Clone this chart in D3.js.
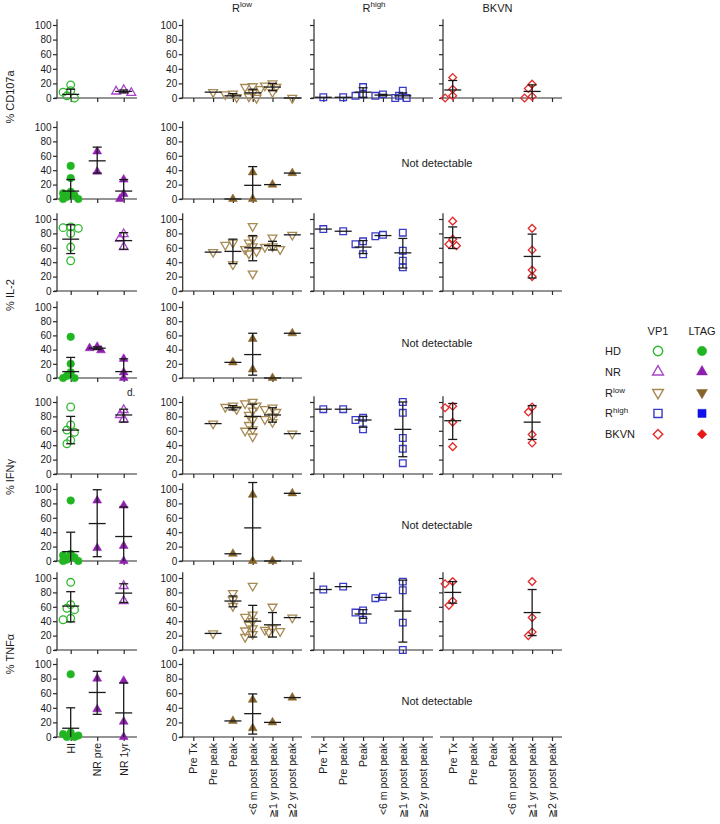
<!DOCTYPE html>
<html><head><meta charset="utf-8">
<script src="https://cdn.jsdelivr.net/npm/d3@7"></script>
<style>
body{margin:0;background:#fff}
svg text{font-family:Arial,"Liberation Sans",sans-serif;fill:#1a1a1a}
</style></head>
<body><svg id="c" width="720" height="824"></svg>
<script>
// ---------- categories / labels ----------
const catsHD = ["HI","NR pre","NR 1yr"];
const catsT = ["Pre Tx","Pre peak","Peak","<6 m post peak","\u22671 yr post peak","\u22672 yr post peak"];
const measures = ["% CD107a","% IL-2","% IFN\u03b3","% TNF\u03b1"];
const yTicks = [0,20,40,60,80,100];
const legendGroups = ["HD","NR","R|low","R|high","BKVN"];
const legendCols = ["VP1","LTAG"];

// ---------- data: [category index, points, mean, sdLow, sdHigh] ----------
// CD107a
const cd107aVP1_HD   = [[0,[18,10,8,3,0],5,0,12]];
const cd107aVP1_NR   = [[2,[7,9,11],9,7,11]];
const cd107aVP1_Rlow = [[1,[8],8],[2,[6,5,1],3,0,6],[3,[16,15,12,7,2,0],7,0,12],[4,[20,17,15,8],15,10,20],[5,[0],0]];
const cd107aVP1_Rhigh= [[0,[1],1],[1,[1],1],[2,[15,5,3],8,1,14],[3,[3,5],4,3,5],[4,[10,3,0,0],3,0,7]];
const cd107aVP1_BKVN = [[0,[28,12,3,0],11,0,24],[4,[19,13,2,0],9,0,18]];
const cd107aLT_HD    = [[0,[46,29,10,8,5,3,0,0],11,0,27]];
const cd107aLT_NR    = [[1,[66,38],53,36,72],[2,[27,7,0],11,0,27]];
const cd107aLT_Rlow  = [[2,[0],0],[3,[37,0],19,0,45],[4,[20],20],[5,[36],36]];
// IL-2
const il2VP1_HD   = [[0,[89,88,87,80,61,42],72,52,92]];
const il2VP1_NR   = [[2,[79,73,61],70,58,81]];
const il2VP1_Rlow = [[1,[54],54],[2,[67,64,37],55,38,72],[3,[90,72,67,62,58,55,52,24],60,42,77],[4,[74,62,61,58],63,57,69],[5,[78],78]];
const il2VP1_Rhigh= [[0,[86],86],[1,[83],83],[2,[69,65,51],61,52,70],[3,[76,78],77],[4,[81,56,42,33],53,32,73]];
const il2VP1_BKVN = [[0,[97,72,65,63],74,59,89],[4,[87,57,29,20],48,18,79]];
const il2LT_HD    = [[0,[58,20,8,3,0,0],9,0,29]];
const il2LT_NR    = [[1,[39,42,44],42,40,44],[2,[27,8,0],9,0,27]];
const il2LT_Rlow  = [[2,[22],22],[3,[55,12],33,4,63],[4,[0],0],[5,[63],63]];
// IFNg
const ifngVP1_HD   = [[0,[93,68,61,58,47,42],61,42,80]];
const ifngVP1_NR   = [[2,[89,82,76],82,72,90]];
const ifngVP1_Rlow = [[1,[70],70],[2,[95,93,90],92,89,95],[3,[100,98,95,88,82,75,68,62,60,52],80,63,97],[4,[92,90,86,80,76,72],82,72,92],[5,[56],56]];
const ifngVP1_Rhigh= [[0,[90],90],[1,[90],90],[2,[78,75,62],75,65,80],[4,[100,85,50,35,15],62,24,100]];
const ifngVP1_BKVN = [[0,[94,92,72,38],74,48,98],[4,[93,86,55,43],72,48,95]];
const ifngLT_HD    = [[0,[84,10,8,5,2,0,0],13,0,40]];
const ifngLT_NR    = [[1,[84,18],52,6,99],[2,[77,21,0],34,0,75]];
const ifngLT_Rlow  = [[2,[10],10],[3,[92,0],46,0,109],[4,[0],0],[5,[94],94]];
// TNFa
const tnfaVP1_HD   = [[0,[94,63,58,56,44,42],61,39,81]];
const tnfaVP1_NR   = [[2,[89,68],79,66,92]];
const tnfaVP1_Rlow = [[1,[23],23],[2,[79,70,61],68,60,75],[3,[89,49,46,40,35,30,27,22,18],40,18,62],[4,[60,30,28,26,25],35,18,52],[5,[45],45]];
const tnfaVP1_Rhigh= [[0,[84],84],[1,[88],88],[2,[55,52,42],50,44,56],[3,[72,74],73],[4,[95,83,38,0],54,11,97]];
const tnfaVP1_BKVN = [[0,[95,92,68,62],80,65,95],[4,[95,45,25,20],52,20,84]];
const tnfaLT_HD    = [[0,[86,6,4,2,0,0],12,0,40]];
const tnfaLT_NR    = [[1,[80,38],61,31,90],[2,[77,21,0],33,0,74]];
const tnfaLT_Rlow  = [[2,[22],22],[3,[51,12],32,4,59],[4,[20],20],[5,[54],54]];

// ---------- layout ----------
const rowsL = [{y0:98,y100:25},{y0:199,y100:127},{y0:291,y100:219},{y0:378,y100:307},
               {y0:474,y100:402},{y0:561,y100:489},{y0:650,y100:578},{y0:737,y100:664}];
const colsL = [{ax:57,end:137,r:[70.7,123.7],cats:catsHD,lab:true},
               {ax:182.7,end:302,r:[193.3,292.3],cats:catsT,lab:true},
               {ax:314,end:433,r:[323.3,422.7],cats:catsT,lab:false},
               {ax:443,end:562,r:[452.7,552],cats:catsT,lab:false}];
const ST = {
  hd:   {sym:d3.symbolCircle,  open:"#2EB82E", fill:"#22B522", size:46, rotO:0, rotF:0},
  nr:   {sym:d3.symbolTriangle,open:"#A845C8", fill:"#8E1FB0", size:34, rotO:0, rotF:0},
  rlow: {sym:d3.symbolTriangle,open:"#A88A55", fill:"#86632A", size:34, rotO:180, rotF:0},
  rhigh:{sym:d3.symbolSquare,  open:"#3A3AC8", fill:"#1010E8", size:44, rotO:0, rotF:0},
  bkvn: {sym:d3.symbolSquare,  open:"#E52A2A", fill:"#E81818", size:30, rotO:45, rotF:45}
};
const AX = "#2a2a2a";
const svg = d3.select("#c");

const panels = [
  [cd107aVP1_HD,"hd",0,0,0],[cd107aVP1_NR,"nr",0,0,0],[cd107aVP1_Rlow,"rlow",0,1,0],[cd107aVP1_Rhigh,"rhigh",0,2,0],[cd107aVP1_BKVN,"bkvn",0,3,0],
  [cd107aLT_HD,"hd",1,0,1],[cd107aLT_NR,"nr",1,0,1],[cd107aLT_Rlow,"rlow",1,1,1],
  [il2VP1_HD,"hd",2,0,0],[il2VP1_NR,"nr",2,0,0],[il2VP1_Rlow,"rlow",2,1,0],[il2VP1_Rhigh,"rhigh",2,2,0],[il2VP1_BKVN,"bkvn",2,3,0],
  [il2LT_HD,"hd",3,0,1],[il2LT_NR,"nr",3,0,1],[il2LT_Rlow,"rlow",3,1,1],
  [ifngVP1_HD,"hd",4,0,0],[ifngVP1_NR,"nr",4,0,0],[ifngVP1_Rlow,"rlow",4,1,0],[ifngVP1_Rhigh,"rhigh",4,2,0],[ifngVP1_BKVN,"bkvn",4,3,0],
  [ifngLT_HD,"hd",5,0,1],[ifngLT_NR,"nr",5,0,1],[ifngLT_Rlow,"rlow",5,1,1],
  [tnfaVP1_HD,"hd",6,0,0],[tnfaVP1_NR,"nr",6,0,0],[tnfaVP1_Rlow,"rlow",6,1,0],[tnfaVP1_Rhigh,"rhigh",6,2,0],[tnfaVP1_BKVN,"bkvn",6,3,0],
  [tnfaLT_HD,"hd",7,0,1],[tnfaLT_NR,"nr",7,0,1],[tnfaLT_Rlow,"rlow",7,1,1]
];

function yS(r){ const R=rowsL[r]; return d3.scaleLinear().domain([0,100]).range([R.y0,R.y100]); }
function xS(c){ const C=colsL[c]; return d3.scalePoint().domain(C.cats).range(C.r); }

function styleAxis(g){
  g.selectAll("path,line").attr("stroke",AX).attr("stroke-width",1.2);
  g.selectAll("text").attr("font-size",10).attr("font-family","Arial, 'Liberation Sans', sans-serif").attr("fill","#1a1a1a");
}
function drawYAxis(r,c){
  const C=colsL[c], y=yS(r);
  const g=svg.append("g").attr("transform",`translate(${C.ax},0)`)
    .call(d3.axisLeft(y).tickValues(yTicks).tickSize(4).tickSizeOuter(0).tickPadding(1.5)
      .tickFormat(C.lab? d3.format("d"):()=>""));
  g.select(".domain").attr("d",`M0,${y(0)}V${y(108)}`);
  styleAxis(g);
}
function drawXAxis(r,c,labels){
  const C=colsL[c], x=xS(c), y=yS(r);
  const g=svg.append("g").attr("transform",`translate(0,${y(0)})`)
    .call(d3.axisBottom(x).tickSize(4).tickSizeOuter(0).tickFormat(labels? d=>d : ()=>""));
  g.select(".domain").attr("d",`M${C.ax-3},0H${C.end}`);
  if(labels){
    g.selectAll(".tick text").attr("transform","rotate(-90)").attr("text-anchor","end")
      .attr("x",-6).attr("y",0).attr("dy","0.35em");
  }
  styleAxis(g);
  if(labels) g.selectAll("text").attr("font-size",10.5);
}

// axes
for(let r=0;r<8;r++){
  const lt = r%2===1;
  drawYAxis(r,0); drawXAxis(r,0,r===7);
  drawYAxis(r,1); drawXAxis(r,1,r===7);
  if(!lt){ drawYAxis(r,2); drawXAxis(r,2,false); drawYAxis(r,3); drawXAxis(r,3,false); }
  else {
    const y=yS(r);
    svg.append("text").attr("x",437).attr("y",(y(0)+y(100))/2+4).attr("text-anchor","middle")
      .attr("font-size",11).text("Not detectable");
    if(r===7){ drawXAxis(r,2,true); drawXAxis(r,3,true); }
  }
}

// compact swarm layout (points may overlap, as in the reference)
function swarm(vals,y,cx){
  const placed=[];
  const items=vals.map(v=>({v,py:y(v)})).sort((a,b)=>a.py-b.py);
  const step=3.8, minD=5.2, offs=[0,-1,1,-2,2];
  items.forEach(p=>{
    let best=null, bestD=-1;
    for(const o of offs){
      const px=cx+o*step;
      const d=placed.length? d3.min(placed,q=>Math.hypot(q.x-px,q.y-p.py)) : 99;
      if(d>=minD){best=px;break;}
      if(d>bestD){bestD=d;best=px;}
    }
    placed.push({x:best,y:p.py});
  });
  return placed;
}

// points and error bars
panels.forEach(([data,grp,r,c,lt])=>{
  const x=xS(c), y=yS(r), st=ST[grp];
  const cats=colsL[c].cats;
  const g=svg.append("g");
  const sym=d3.symbol().type(st.sym).size(st.size);
  data.forEach(d=>{
    const cx=x(cats[d[0]]);
    const pts=swarm(d[1],y,cx);
    g.selectAll(null).data(pts).join("path")
      .attr("d",sym)
      .attr("transform",p=>`translate(${p.x},${p.y}) rotate(${lt?st.rotF:st.rotO})`)
      .attr("fill",lt?st.fill:"none").attr("stroke",lt?st.fill:st.open).attr("stroke-width",lt?0.5:1.3);
  });
  data.forEach(d=>{
    const cx=x(cats[d[0]]);
    const eb=svg.append("g").attr("stroke","#1a1a1a").attr("stroke-width",1.3).attr("fill","none");
    eb.append("line").attr("x1",cx-8.5).attr("x2",cx+8.5).attr("y1",y(d[2])).attr("y2",y(d[2]));
    if(d.length>3){
      eb.append("line").attr("x1",cx).attr("x2",cx).attr("y1",y(d[3])).attr("y2",y(d[4]));
      [d[3],d[4]].forEach(v=>{ if(v>0) eb.append("line").attr("x1",cx-4.5).attr("x2",cx+4.5).attr("y1",y(v)).attr("y2",y(v)); });
    }
  });
});

// headers
function supText(sel,base,sup,x,y,fs){
  const t=sel.append("text").attr("x",x).attr("y",y).attr("font-size",fs).attr("text-anchor","middle");
  t.append("tspan").text(base);
  if(sup) t.append("tspan").attr("font-size",fs*0.72).attr("dy",-fs*0.38).text(sup);
  return t;
}
supText(svg,"R","low",242,11.5,11);
supText(svg,"R","high",374,11.5,11);
supText(svg,"BKVN",null,497.5,11.5,11);

// row titles
[[97],[295],[477],[654]].forEach((p,i)=>{
  svg.append("text").attr("transform",`translate(14,${p[0]}) rotate(-90)`).attr("text-anchor","middle")
    .attr("font-size",11).text(measures[i]);
});

// "d." mark
svg.append("text").attr("x",127).attr("y",396).attr("font-size",10).text("d.");

// legend
const lgX=605, lgO=658, lgF=702, lgY0=351, lgDy=20.8;
legendCols.forEach((t,i)=>svg.append("text").attr("x",i?lgF:lgO).attr("y",335).attr("text-anchor","middle").attr("font-size",11).text(t));
const keys=["hd","nr","rlow","rhigh","bkvn"];
legendGroups.forEach((lab,i)=>{
  const yy=lgY0+i*lgDy, st=ST[keys[i]];
  const parts=lab.split("|");
  const t=svg.append("text").attr("x",lgX).attr("y",yy+4).attr("font-size",11);
  t.append("tspan").text(parts[0]);
  if(parts[1]) t.append("tspan").attr("font-size",8).attr("dy",-4).text(parts[1]);
  const sym=d3.symbol().type(st.sym).size(st.size*1.5);
  svg.append("path").attr("d",sym).attr("transform",`translate(${lgO},${yy}) rotate(${st.rotO})`)
    .attr("fill","none").attr("stroke",st.open).attr("stroke-width",1.4);
  svg.append("path").attr("d",sym).attr("transform",`translate(${lgF},${yy}) rotate(${keys[i]==="rlow"?180:st.rotF})`)
    .attr("fill",st.fill).attr("stroke",st.fill).attr("stroke-width",0.5);
});
</script></body></html>
